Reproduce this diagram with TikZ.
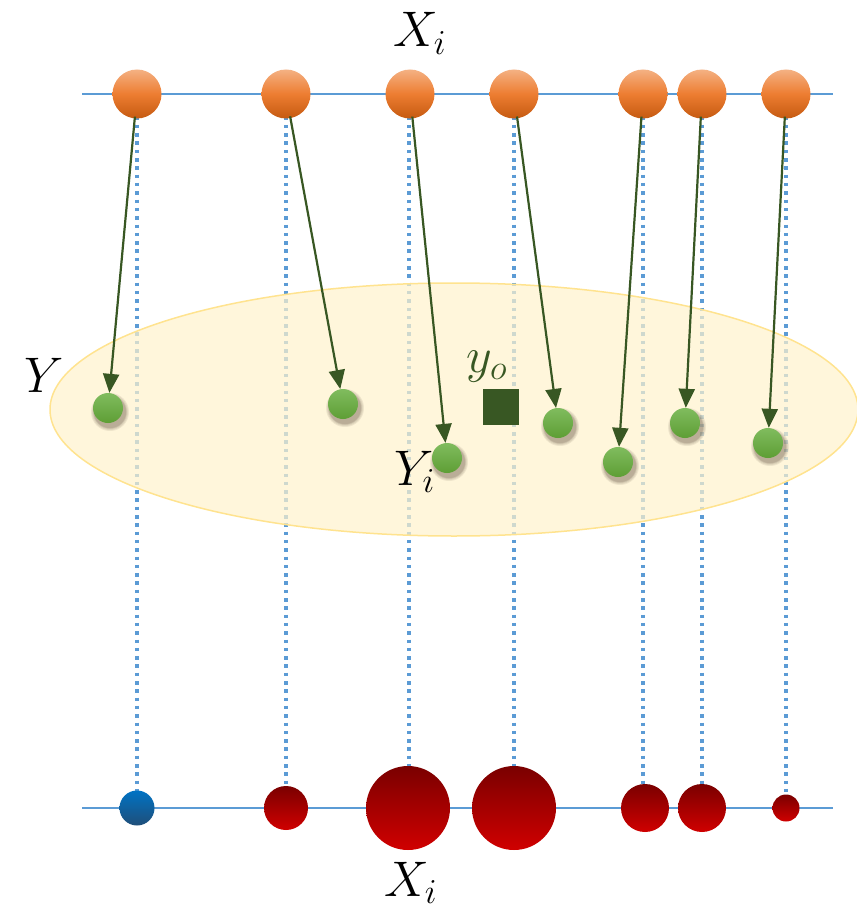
\documentclass[tikz,border=0pt]{standalone}
\usepackage{fix-cm}
\usetikzlibrary{arrows.meta,shapes.geometric}
\definecolor{lineblue}{HTML}{5B9BD5}
\definecolor{darkgreen}{HTML}{385723}
\definecolor{orT}{HTML}{F4B183}
\definecolor{orM}{HTML}{ED7D31}
\definecolor{orB}{HTML}{C55A11}
\definecolor{grT}{HTML}{80BC5E}
\definecolor{grB}{HTML}{5E9E35}
\definecolor{rdT}{HTML}{7A0000}
\definecolor{rdB}{HTML}{D00000}
\definecolor{blT}{HTML}{0073C4}
\definecolor{blB}{HTML}{1F4E79}
\definecolor{ellfill}{HTML}{FFF2CC}
\definecolor{elldraw}{HTML}{FFE38F}
\definecolor{shadowc}{HTML}{4A3A2A}
\tikzset{
  axisline/.style={draw=lineblue,line width=1.3pt},
  vdots/.style={draw=lineblue,line width=3.5pt,dash pattern=on 3.5pt off 4.8pt},
  orangedot/.style={circle,inner sep=0pt,minimum size=49pt,top color=orT,bottom color=orB,middle color=orM},
  greendot/.style={circle,inner sep=0pt,minimum size=30pt,top color=grT,bottom color=grB},
  softshadow/.style={fill=shadowc,fill opacity=0.09},
  reddot/.style={circle,inner sep=0pt,minimum size=#1,top color=rdT,bottom color=rdB},
  bluedot/.style={circle,inner sep=0pt,minimum size=#1,top color=blT,bottom color=blB},
  arr/.style={draw=darkgreen,line width=2.2pt,-{Triangle[length=19pt,width=16pt]},shorten <=-2pt},
  lbl/.style={inner sep=0pt,font=\fontsize{50}{50}\selectfont}
}
\begin{document}
\begin{tikzpicture}[x=1pt,y=-1pt]
\useasboundingbox (0,0) rectangle (856,912);
% axis lines
\draw[axisline] (82,94) -- (833,94);
\draw[axisline] (82,808) -- (833,808);
% dotted verticals
\foreach \x in {137,286,409,514,643,702,786}
  \draw[vdots] (\x,100) -- (\x,800);
% ellipse
\node[ellipse,draw=elldraw,line width=1.5pt,fill=ellfill,fill opacity=0.7,minimum width=808pt,minimum height=253pt,inner sep=0pt] (ell) at (454,409.5) {};
% top orange nodes
\node[orangedot] (o1) at (137,94) {};
\node[orangedot] (o2) at (286,94) {};
\node[orangedot] (o3) at (410,94) {};
\node[orangedot] (o4) at (514,94) {};
\node[orangedot] (o5) at (643,94) {};
\node[orangedot] (o6) at (702,94) {};
\node[orangedot] (o7) at (786,94) {};
% soft shadows of green nodes
\foreach \x/\y in {108/408,343/404,447/458,558/423,618/462,685/423,768/443}
  \foreach \r in {19,18,17,16.5,16}
    \fill[softshadow] (\x+2,\y+4) circle (\r);
% green nodes
\node[greendot] (g1) at (108,408) {};
\node[greendot] (g2) at (343,404) {};
\node[greendot] (g3) at (447,458) {};
\node[greendot] (g4) at (558,423) {};
\node[greendot] (g5) at (618,462) {};
\node[greendot] (g6) at (685,423) {};
\node[greendot] (g7) at (768,443) {};
% square y_o
\node[rectangle,fill=darkgreen,minimum size=36pt,inner sep=0pt] (yo) at (501,407) {};
% arrows
\draw[arr] (o1) -- (g1);
\draw[arr] (o2) -- (g2);
\draw[arr] (o3) -- (g3);
\draw[arr] (o4) -- (g4);
\draw[arr] (o5) -- (g5);
\draw[arr] (o6) -- (g6);
\draw[arr] (o7) -- (g7);
% bottom nodes
\node[bluedot=35pt] (b1) at (137,808) {};
\node[reddot=44pt] (b2) at (286,808) {};
\node[reddot=84pt] (b3) at (408,808) {};
\node[reddot=84pt] (b4) at (514,808) {};
\node[reddot=48pt] (b5) at (645,808) {};
\node[reddot=48pt] (b6) at (702,808) {};
\node[reddot=27pt] (b7) at (786,808) {};
% labels
\node[lbl,anchor=base west] (lxt) at (393,47) {$X_i$};
\node[lbl,anchor=base west] (ly) at (24,392) {$Y$};
\node[lbl,anchor=base west] (lyi) at (394,485) {$Y_i$};
\node[lbl,anchor=base west,text=darkgreen] (lyo) at (466,372) {$y_o$};
\node[lbl,anchor=base west] (lxb) at (384,896) {$X_i$};
\end{tikzpicture}
\end{document}
